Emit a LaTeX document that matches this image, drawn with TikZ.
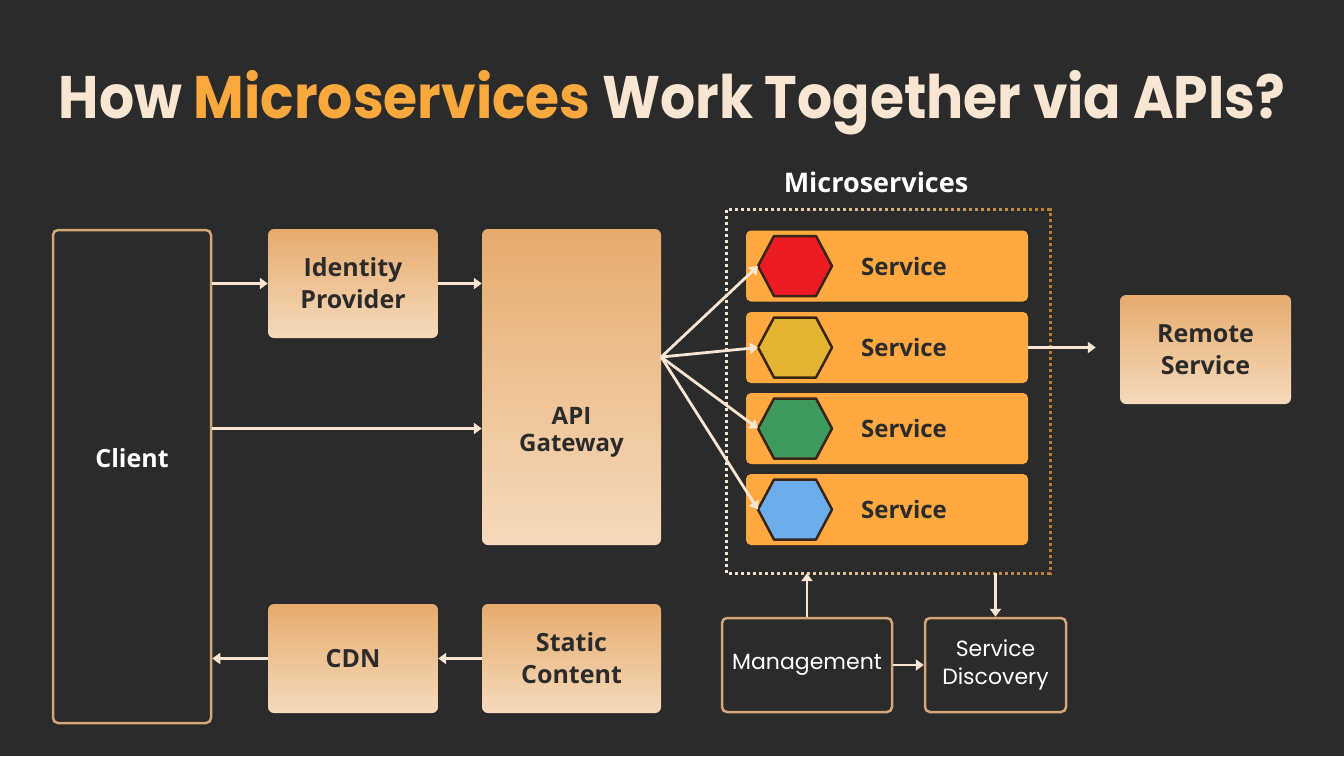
\documentclass[tikz,border=0pt]{standalone}
\usepackage{fontspec}
\setmainfont{Poppins}
\newfontfamily\boxfont{Open Sans}
\usepackage{tikz}
\usetikzlibrary{arrows.meta}
\usetikzlibrary{calc}
\usetikzlibrary{fadings}
\definecolor{bgdark}{HTML}{2B2B2B}
\definecolor{tan}{HTML}{D6A678}
\definecolor{cream}{HTML}{F8E6D2}
\definecolor{gradtop}{HTML}{E6AB6E}
\definecolor{gradbot}{HTML}{F6DABB}
\definecolor{barorange}{HTML}{FFA940}
\definecolor{titleorange}{HTML}{F9A83D}
\definecolor{hexline}{HTML}{3A2415}
\definecolor{hexred}{HTML}{ED1C24}
\definecolor{hexyellow}{HTML}{E3B431}
\definecolor{hexgreen}{HTML}{3E9A5E}
\definecolor{hexblue}{HTML}{6CAEEB}
\tikzset{
  flow/.style={draw=cream,line width=2.8pt,-{Triangle[length=8pt,width=11pt]}},
  outlinebox/.style={draw=tan,line width=2.5pt,rounded corners=5pt,fill=bgdark,text=white,align=center},
  softbox/.style={top color=gradtop,bottom color=gradbot,rounded corners=6pt,text=bgdark,align=center,
    font=\boxfont\bfseries\fontsize{25}{32}\selectfont},
  svcbar/.style={fill=barorange,rounded corners=5pt,minimum width=282pt,minimum height=71pt,text=bgdark,
    font=\boxfont\bfseries\fontsize{24}{28}\selectfont},
  hexshape/.style={draw=hexline,line width=2.5pt,line join=round},
  dotline/.style={line width=3pt,dash pattern=on 3pt off 3pt},
}
\begin{document}
\begin{tikzpicture}[x=1pt,y=-1pt]
  \useasboundingbox[fill=bgdark] (0,0) rectangle (1344,756);
  % title
  \node[anchor=base,text=cream,font=\bfseries\fontsize{60}{66}\selectfont] (title) at (672,118)
    {\scalebox{0.92}[1]{How {\color{titleorange}Microservices} Work Together via APIs?}};
  % left column
  \node[outlinebox,minimum width=158pt,minimum height=493pt,font=\boxfont\bfseries\fontsize{25}{30}\selectfont]
    (client) at (132,476.5) {\raisebox{9.5pt}[0pt][0pt]{Client}};
  \node[softbox,minimum width=170pt,minimum height=109pt] (idp) at (353,283.5) {Identity\\Provider};
  \node[softbox,minimum width=179pt,minimum height=316pt,font=\boxfont\bfseries\fontsize{24}{27}\selectfont]
    (gateway) at (571.5,387) {\raisebox{-64pt}[0pt][0pt]{\begin{tabular}[b]{@{}c@{}}API\\Gateway\end{tabular}}};
  \node[softbox,minimum width=170pt,minimum height=109pt] (cdn) at (353,658.5) {CDN};
  \node[softbox,minimum width=179pt,minimum height=109pt] (static) at (571.5,658.5) {Static\\Content};
  \node[softbox,minimum width=171pt,minimum height=109pt] (remote) at (1205.5,349.5) {Remote\\Service};
  % microservices group
  \node[minimum width=323pt,minimum height=363pt,inner sep=0pt] (ms) at (888.5,391.5) {};
  \draw[cream,dotline] (ms.north west) rectangle (ms.south east);
  \draw[titleorange!75!black,dotline,path fading=west] (ms.north west) rectangle (ms.south east);
  \node[anchor=base,text=white,font=\boxfont\bfseries\fontsize{27}{30}\selectfont] (mslabel) at (876,192) {Microservices};
  \node[svcbar] (svc1) at (887,266) {\hspace*{34pt}Service};
  \node[svcbar] (svc2) at (887,347.5) {\hspace*{34pt}Service};
  \node[svcbar] (svc3) at (887,428.5) {\hspace*{34pt}Service};
  \node[svcbar] (svc4) at (887,509.5) {\hspace*{34pt}Service};
  \coordinate (hex1) at (758,266);
  \coordinate (hex2) at (758,347.5);
  \coordinate (hex3) at (758,428.5);
  \coordinate (hex4) at (758,509.5);
  \foreach \i/\c in {1/hexred,2/hexyellow,3/hexgreen,4/hexblue}
    \draw[hexshape,fill=\c] (hex\i) -- ++(16,-30) -- ++(42,0) -- ++(16,30) -- ++(-16,30) -- ++(-42,0) -- cycle;
  % bottom right
  \node[outlinebox,minimum width=170pt,minimum height=94pt,font=\fontsize{22}{27}\selectfont] (mgmt) at (807,665) {Management};
  \node[outlinebox,minimum width=141pt,minimum height=94pt,font=\fontsize{22}{28}\selectfont] (discovery) at (995.5,665) {Service\\Discovery};
  % connectors
  \draw[flow] (idp.west -| client.east) -- (idp.west);
  \draw[flow] (idp.east) -- (idp.east -| gateway.west);
  \draw[flow] ($(client.east)+(0,-48)$) -- ($(client.east -| gateway.west)+(0,-48)$);
  \coordinate (fan) at ($(gateway.east)+(0,-30)$);
  \foreach \i in {1,...,4}
    \draw[flow] (fan) -- (hex\i);
  \draw[flow,shorten >=24pt] (svc2.east) -- (svc2.east -| remote.west);
  \draw[flow] (cdn.west) -- (cdn.west -| client.east);
  \draw[flow] (static.west) -- (cdn.east);
  \draw[flow] (mgmt.north) -- (mgmt.north |- ms.south);
  \draw[flow] (discovery.north |- ms.south) -- (discovery.north);
  \draw[flow] (mgmt.east) -- (discovery.west);
\end{tikzpicture}
\end{document}
